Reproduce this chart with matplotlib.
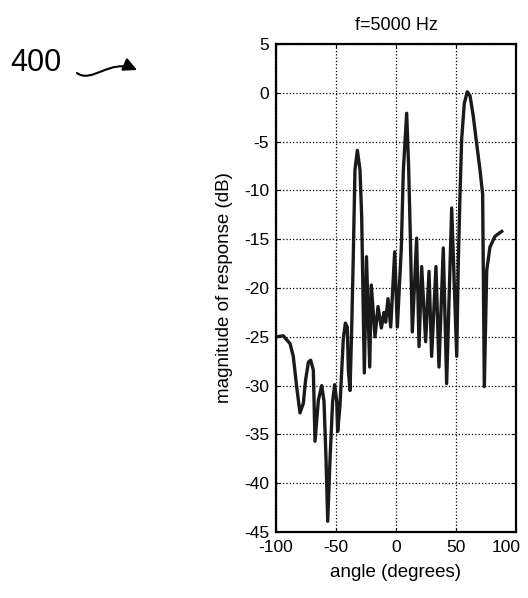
import matplotlib
matplotlib.use("Agg")
import matplotlib.pyplot as plt
import matplotlib.transforms as mtransforms
from matplotlib.patches import FancyArrowPatch
from matplotlib.path import Path

plt.rcParams['font.family'] = ['Liberation Sans', 'DejaVu Sans']
plt.rcParams['axes.unicode_minus'] = False

# beam response
angle = [-100, -93.9, -88.3, -85.6, -82.8, -80.0, -77.2, -75.3, -73.0, -71.1,
         -68.9, -67.5, -64.7, -61.9, -60.0, -58.3, -56.9, -55.0, -52.8, -51.1,
         -49.4, -48.6, -46.7, -43.9, -42.2, -40.6, -39.7, -38.3, -36.9, -35.6,
         -34.2, -32.2, -30.0, -28.6, -26.4, -24.6, -21.9, -20.6, -17.5, -15.0,
         -12.2, -10.0, -8.6, -6.7, -4.4, -1.1, 1.1, 4.4, 6.1, 8.9,
         10.5, 12.0, 13.6, 17.2, 19.2, 21.4, 24.7, 27.5, 29.7, 33.3,
         35.8, 39.4, 42.2, 46.4, 50.6, 51.9, 53.3, 54.7, 56.9, 59.4,
         61.7, 64.4, 67.2, 70.0, 72.2, 73.6, 75.6, 78.3, 82.5, 88.1]
mag_db = [-25.0, -24.9, -25.7, -27.0, -30.1, -32.8, -31.8, -29.4, -27.6, -27.4,
          -28.4, -35.7, -31.5, -30.0, -31.6, -37.6, -43.9, -37.6, -31.6, -29.9,
          -31.6, -34.7, -32.1, -25.2, -23.6, -24.0, -28.4, -30.5, -24.0, -16.8,
          -7.9, -5.9, -7.9, -12.7, -28.7, -16.8, -28.1, -19.7, -25.0, -21.9,
          -24.1, -22.5, -23.5, -21.1, -24.0, -16.3, -24.0, -16.0, -8.0, -2.1,
          -7.5, -15.0, -24.5, -14.9, -26.0, -17.8, -25.5, -18.3, -27.0, -17.8,
          -28.1, -15.9, -29.8, -11.8, -27.0, -17.5, -10.6, -4.8, -1.1, 0.1,
          -0.3, -2.4, -5.2, -7.9, -10.4, -30.1, -18.2, -15.8, -14.7, -14.2]

xticks = [-100, -50, 0, 50, 100]
yticks = [5, 0, -5, -10, -15, -20, -25, -30, -35, -40, -45]

fig = plt.figure(figsize=(5.28, 5.98), dpi=100)
ax = fig.add_axes([276/528, 1 - 532/598, 240/528, 488/598])

ax.plot(angle, mag_db, color='#1a1a1a', linewidth=2.4)

ax.set_xlim(-100, 100)
ax.set_ylim(-45, 5)
ax.set_xticks(xticks)
ax.set_yticks(yticks)
ax.grid(True, color='black', linestyle=':', linewidth=0.9)
ax.tick_params(direction='in', top=True, right=True, length=3, labelsize=12.5,
               colors='black')
ax.tick_params(axis='x', pad=6)
ax.tick_params(axis='y', pad=5)
for s in ax.spines.values():
    s.set_linewidth(1.6)

# last x label sits a bit inside the edge, as in the scan
last = ax.get_xticklabels()[-1]
last.set_transform(last.get_transform() +
                   mtransforms.ScaledTranslation(-10/100, 0, fig.dpi_scale_trans))

ax.set_title('f=5000 Hz', fontsize=13, pad=10)
ax.set_xlabel('angle (degrees)', fontsize=13.5, labelpad=6)
ax.set_ylabel('magnitude of response (dB)', fontsize=13.5, labelpad=8)

# reference numeral with wavy arrow
fig.text(10/528, 1 - 63/598, '400', fontsize=22, va='center', ha='left')
W, H = 528.0, 598.0
pts = [(77, 73), (92, 84), (110, 58), (137, 70)]
verts = [(x / W, 1 - y / H) for x, y in pts]
arrow = FancyArrowPatch(path=Path(verts, [Path.MOVETO, Path.CURVE4, Path.CURVE4, Path.CURVE4]),
                        arrowstyle='-|>', mutation_scale=20, color='black',
                        linewidth=1.5, transform=fig.transFigure)
fig.add_artist(arrow)

fig.savefig('out.png', dpi=100)
